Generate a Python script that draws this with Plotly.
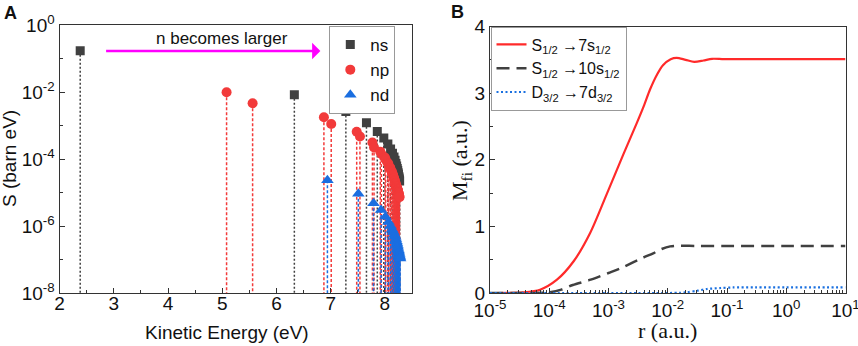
import plotly.graph_objects as go

# ---------------- Panel A data ----------------
ns_energy = [2.38, 6.33, 7.28, 7.66, 7.86, 7.98, 8.055, 8.105, 8.14, 8.168, 8.188, 8.204,
             8.217, 8.228, 8.237, 8.244, 8.250, 8.257, 8.263, 8.268, 8.272]
ns_S = [0.17, 8.3e-3, 2.6e-3, 1.2e-3, 6.6e-4, 4.2e-4, 2.8e-4, 2.0e-4, 1.48e-4, 1.15e-4, 9.1e-5, 7.4e-5,
        6.2e-5, 5.2e-5, 4.5e-5, 3.9e-5, 3.5e-5, 3.0e-5, 2.7e-5, 2.4e-5, 2.2e-5]

np_energy = [5.08, 5.56, 6.875, 7.01, 7.48, 7.54, 7.77, 7.80, 7.915, 7.935, 8.00, 8.015,
             8.055, 8.065, 8.095, 8.102, 8.125, 8.131, 8.148, 8.153, 8.166, 8.170, 8.181, 8.184,
             8.193, 8.196, 8.204, 8.206, 8.213, 8.215, 8.221, 8.223, 8.228, 8.229, 8.234, 8.235,
             8.240, 8.241, 8.245, 8.246, 8.250, 8.254, 8.258, 8.262, 8.266, 8.270]
np_S = [9.8e-3, 4.6e-3, 1.76e-3, 1.11e-3, 6.5e-4, 4.7e-4, 3.1e-4, 2.2e-4, 1.66e-4, 1.41e-4, 1.10e-4, 9.5e-5,
        7.6e-5, 6.9e-5, 5.6e-5, 5.1e-5, 4.3e-5, 4.0e-5, 3.4e-5, 3.2e-5, 2.75e-5, 2.6e-5, 2.3e-5, 2.2e-5,
        1.95e-5, 1.86e-5, 1.70e-5, 1.62e-5, 1.51e-5, 1.48e-5, 1.38e-5, 1.35e-5, 1.29e-5, 1.26e-5, 1.20e-5, 1.17e-5,
        1.12e-5, 1.10e-5, 1.05e-5, 1.02e-5, 9.8e-6, 9.1e-6, 8.5e-6, 8.1e-6, 7.6e-6, 7.2e-6]

nd_energy = [6.94, 7.51, 7.79, 7.93, 8.01, 8.065, 8.105, 8.135, 8.158, 8.176, 8.191, 8.203,
             8.213, 8.222, 8.230, 8.237, 8.243, 8.249, 8.254, 8.259, 8.264, 8.268, 8.272, 8.276, 8.280]
nd_S = [2.34e-5, 9.1e-6, 4.8e-6, 3.0e-6, 1.9e-6, 1.32e-6, 1.0e-6, 7.9e-7, 6.6e-7, 5.6e-7, 4.8e-7, 4.1e-7,
        3.5e-7, 3.1e-7, 2.7e-7, 2.4e-7, 2.1e-7, 1.9e-7, 1.74e-7, 1.58e-7, 1.45e-7, 1.32e-7, 1.23e-7, 1.15e-7, 1.07e-7]

S_FLOOR = 1e-8  # bottom of the S axis, where the drop lines end

x_ticks_A = [2, 3, 4, 5, 6, 7, 8]
y_ticks_A = [1e-8, 1e-6, 1e-4, 1e-2, 1]
y_ticktext_A = ["10<sup>-8</sup>", "10<sup>-6</sup>", "10<sup>-4</sup>", "10<sup>-2</sup>", "10<sup>0</sup>"]
y_minor_A = [1e-7, 1e-5, 1e-3, 1e-1]

# ---------------- Panel B data ----------------
r_7s = [1e-5, 2e-5, 3.6e-5, 7e-5, 1.35e-4, 2.6e-4, 4.9e-4, 9.3e-4, 1.78e-3, 3.0e-3, 4.0e-3, 5.0e-3,
        6.6e-3, 8.3e-3, 1.12e-2, 1.41e-2, 2.0e-2, 2.8e-2, 4.0e-2, 5.6e-2, 8.9e-2, 0.3, 1.0, 10.0]
M_7s = [0.0, 0.003, 0.01, 0.05, 0.20, 0.48, 0.90, 1.48, 2.08, 2.55, 2.82, 3.05,
        3.28, 3.42, 3.51, 3.53, 3.50, 3.47, 3.49, 3.515, 3.51, 3.51, 3.51, 3.51]

r_10s = [1e-5, 5e-5, 1e-4, 1.6e-4, 2.5e-4, 5e-4, 1e-3, 1.6e-3, 3.2e-3, 5.8e-3, 7.9e-3, 1.1e-2,
         1.6e-2, 3e-2, 0.1, 1.0, 10.0]
M_10s = [0.0, 0.0, 0.01, 0.05, 0.12, 0.20, 0.30, 0.37, 0.50, 0.60, 0.66, 0.70,
         0.71, 0.705, 0.705, 0.705, 0.705]

r_7d = [1e-5, 1e-3, 1e-2, 1.6e-2, 2.1e-2, 3.2e-2, 4.6e-2, 7.8e-2, 0.126, 0.3, 1.0, 10.0]
M_7d = [0.0, 0.0, 0.0, 0.003, 0.01, 0.035, 0.06, 0.075, 0.083, 0.085, 0.085, 0.085]

x_ticks_B = [1e-5, 1e-4, 1e-3, 1e-2, 1e-1, 1, 10]
x_ticktext_B = ["10<sup>-5</sup>", "10<sup>-4</sup>", "10<sup>-3</sup>", "10<sup>-2</sup>",
                "10<sup>-1</sup>", "10<sup>0</sup>", "10<sup>1</sup>"]
x_minor_B = [m * d for d in [1e-5, 1e-4, 1e-3, 1e-2, 1e-1, 1] for m in range(2, 10)]

# ---------------- styling ----------------
W, H = 858, 346
SANS = "Arial, Liberation Sans, sans-serif"
SERIF = "Times New Roman, Liberation Serif, serif"
AX = "#333333"
C_NS, C_NP, C_ND = "#404040", "#f23a3a", "#1a6ee0"
C_RED, C_BLK, C_BLU = "#ff2a2a", "#404040", "#1a70e0"


def px_x(p):
    return p / W


def px_y(p):
    return 1 - p / H


def stems(xs, ys):
    sx, sy = [], []
    for x, y in zip(xs, ys):
        sx += [x, x, None]
        sy += [y, S_FLOOR, None]
    return sx, sy


fig = go.Figure()

for xs, ys, col, dash in [(ns_energy, ns_S, C_NS, "2px,2px"),
                          (np_energy, np_S, C_NP, "3px,2px"),
                          (nd_energy, nd_S, C_ND, "3px,2px")]:
    sx, sy = stems(xs, ys)
    fig.add_trace(go.Scatter(x=sx, y=sy, mode="lines", xaxis="x", yaxis="y",
                             line=dict(color=col, width=1.5, dash=dash),
                             showlegend=False, hoverinfo="skip"))

fig.add_trace(go.Scatter(x=ns_energy, y=ns_S, mode="markers", name="ns", xaxis="x", yaxis="y",
                         marker=dict(symbol="square", size=9, color=C_NS), legend="legend"))
fig.add_trace(go.Scatter(x=np_energy, y=np_S, mode="markers", name="np", xaxis="x", yaxis="y",
                         marker=dict(symbol="circle", size=10, color=C_NP), legend="legend"))
fig.add_trace(go.Scatter(x=nd_energy, y=nd_S, mode="markers", name="nd", xaxis="x", yaxis="y",
                         marker=dict(symbol="triangle-up", size=11, color=C_ND), legend="legend"))

fig.add_trace(go.Scatter(x=r_7s, y=M_7s, mode="lines", xaxis="x2", yaxis="y2",
                         name="S<sub>1/2</sub> \u21927s<sub>1/2</sub>",
                         line=dict(color=C_RED, width=2.2, shape="spline", smoothing=0.8),
                         legend="legend2"))
fig.add_trace(go.Scatter(x=r_10s, y=M_10s, mode="lines", xaxis="x2", yaxis="y2",
                         name="S<sub>1/2</sub> \u219210s<sub>1/2</sub>",
                         line=dict(color=C_BLK, width=2.5, dash="13px,7px", shape="spline", smoothing=0.8),
                         legend="legend2"))
fig.add_trace(go.Scatter(x=r_7d, y=M_7d, mode="lines", xaxis="x2", yaxis="y2",
                         name="D<sub>3/2</sub> \u21927d<sub>3/2</sub>",
                         line=dict(color=C_BLU, width=2.2, dash="2px,2.5px", shape="spline", smoothing=0.8),
                         legend="legend2"))

axis_common = dict(showline=True, linecolor=AX, linewidth=1.3, mirror=True, ticks="inside",
                   ticklen=5, tickwidth=1.2, tickcolor=AX, showgrid=False, zeroline=False,
                   automargin=False, ticklabeloverflow="allow",
                   tickfont=dict(family=SANS, size=19, color="#111"))

fig.update_layout(
    template="none",
    width=W, height=H, margin=dict(l=0, r=0, t=0, b=0, pad=0, autoexpand=False),
    paper_bgcolor="white", plot_bgcolor="white",
    xaxis=dict(domain=[px_x(59.6), px_x(412)], range=[2, 8.5], tickvals=x_ticks_A,
               minor=dict(dtick=0.5, tick0=2, ticks="inside", ticklen=3, tickcolor=AX),
               anchor="y", ticklabelstandoff=-7, **axis_common),
    yaxis=dict(domain=[px_y(293), px_y(25)], type="log", range=[-8, 0], tickvals=y_ticks_A,
               ticktext=y_ticktext_A, anchor="x",
               minor=dict(tickvals=y_minor_A, ticks="inside", ticklen=3, tickcolor=AX),
               **axis_common),
    xaxis2=dict(domain=[px_x(490), px_x(845.5)], type="log", range=[-5, 1], tickvals=x_ticks_B,
                ticktext=x_ticktext_B, anchor="y2", ticklabelstandoff=0,
                minor=dict(tickvals=x_minor_B, ticks="inside", ticklen=3, tickcolor=AX),
                **axis_common),
    yaxis2=dict(domain=[px_y(293), px_y(26.5)], range=[0, 4], tickvals=[0, 1, 2, 3, 4], anchor="x2",
                minor=dict(dtick=0.5, tick0=0, ticks="inside", ticklen=3, tickcolor=AX),
                **axis_common),
    legend=dict(x=px_x(329.3), y=px_y(26), xanchor="left", yanchor="top",
                bgcolor="white", bordercolor="#999", borderwidth=1,
                font=dict(family=SANS, size=17, color="#111"), tracegroupgap=0,
                itemwidth=30),
    legend2=dict(x=px_x(490.5), y=px_y(26.5), xanchor="left", yanchor="top",
                 bgcolor="white", bordercolor="#999", borderwidth=1,
                 font=dict(family=SANS, size=16, color="#111"), tracegroupgap=0,
                 itemwidth=30),
    showlegend=True,
)

# arrow and its label in panel A (annotation coords on log axis are log10 values)
fig.add_annotation(x=6.81, y=-0.776, ax=2.83, ay=-0.776, xref="x", yref="y", axref="x", ayref="y",
                   text="", showarrow=True, arrowhead=1, arrowsize=1.1, arrowwidth=2.5,
                   arrowcolor="#ff00ff")
fig.add_annotation(x=4.99, y=-0.39, xref="x", yref="y", text="n becomes larger", showarrow=False,
                   xanchor="center", yanchor="middle",
                   font=dict(family=SANS, size=17, color="#111"))


def label(xp, yp, text, font, angle=0):
    fig.add_annotation(x=px_x(xp), y=px_y(yp), xref="paper", yref="paper", text=text,
                       textangle=angle, showarrow=False, xanchor="center", yanchor="middle",
                       font=font)


# axis titles and panel labels
label(227, 332, "Kinetic Energy (eV)", dict(family=SANS, size=19, color="#111"))
label(9, 159, "S (barn eV)", dict(family=SANS, size=19, color="#111"), -90)
label(667, 330, "r (a.u.)", dict(family=SERIF, size=22, color="#111"))
label(461, 160, "M<sub>fi</sub> (a.u.)", dict(family=SERIF, size=22, color="#111"), -90)
label(10, 13, "<b>A</b>", dict(family=SANS, size=18, color="#111"))
label(457, 12, "<b>B</b>", dict(family=SANS, size=18, color="#111"))

fig.write_html("out.html", config={"displayModeBar": False},
               post_script="document.body.style.margin='0';")
